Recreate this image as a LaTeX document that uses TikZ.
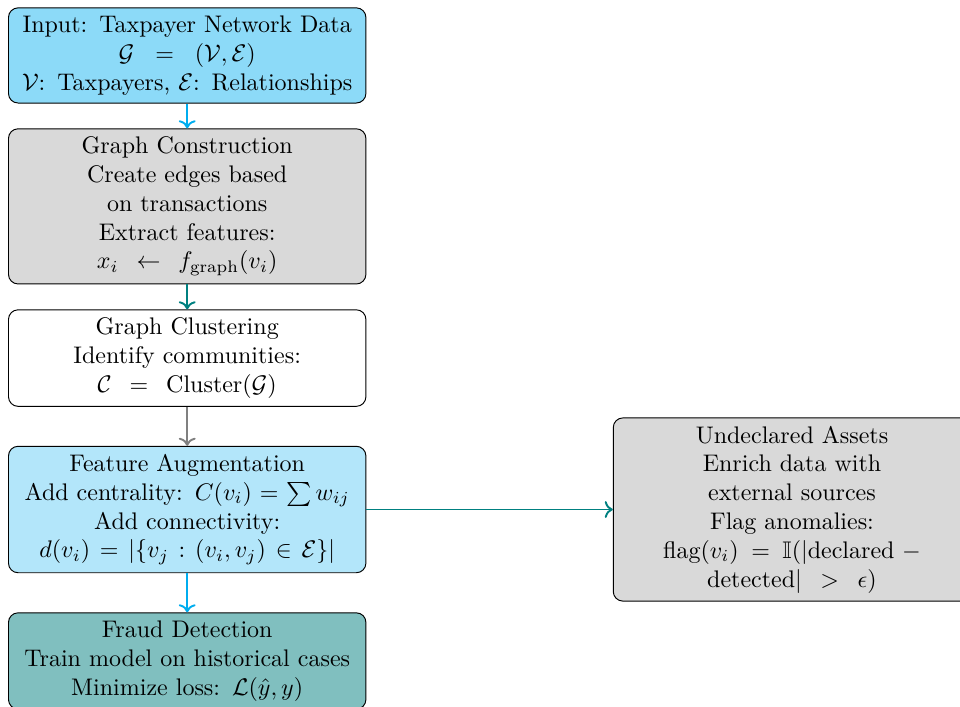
\documentclass[tikz,border=0pt]{standalone}
\usepackage{amsmath,amssymb}
\usetikzlibrary{arrows.meta}
\begin{document}
\begin{tikzpicture}[
  stage/.style={draw=black, rounded corners=4pt, text width=5cm, align=center, font=\normalsize},
  link/.style={->, thick},
]
\useasboundingbox (0,0) rectangle (400pt,-294.2pt);

\node[stage, fill=cyan!45] (input) at (78pt,-23.1pt)
  {Input: Taxpayer Network Data\\ $\mathcal{G} = (\mathcal{V}, \mathcal{E})$\\ $\mathcal{V}$: Taxpayers, $\mathcal{E}$: Relationships};
\node[stage, fill=gray!30] (build) at (78pt,-86pt)
  {Graph Construction\\ Create edges based on transactions\\ Extract features: $x_i \leftarrow f_{\text{graph}}(v_i)$};
\node[stage, fill=white] (cluster) at (78pt,-149.2pt)
  {Graph Clustering\\ Identify communities:\\ $\mathcal{C} = \text{Cluster}(\mathcal{G})$};
\node[stage, fill=cyan!30] (augment) at (78pt,-212.3pt)
  {Feature Augmentation\\ Add centrality: $C(v_i) = \sum w_{ij}$\\ Add connectivity: $d(v_i) = |\{v_j : (v_i, v_j) \in \mathcal{E}\}|$};
\node[stage, fill=teal!50] (fraud) at (78pt,-275.4pt)
  {Fraud Detection\\ Train model on historical cases\\ Minimize loss: $\mathcal{L}(\hat{y}, y)$};
\node[stage, fill=gray!30] (assets) at (330pt,-212.3pt)
  {Undeclared Assets\\ Enrich data with external sources\\ Flag anomalies:\\ $\text{flag}(v_i) = \mathbb{I}(|\text{declared} - \text{detected}| > \epsilon)$};

\draw[link, cyan] (input) -- (build);
\draw[link, teal] (build) -- (cluster);
\draw[link, gray] (cluster) -- (augment);
\draw[link, cyan] (augment) -- (fraud);
\draw[link, teal] (augment) -- (assets);
\end{tikzpicture}
\end{document}
